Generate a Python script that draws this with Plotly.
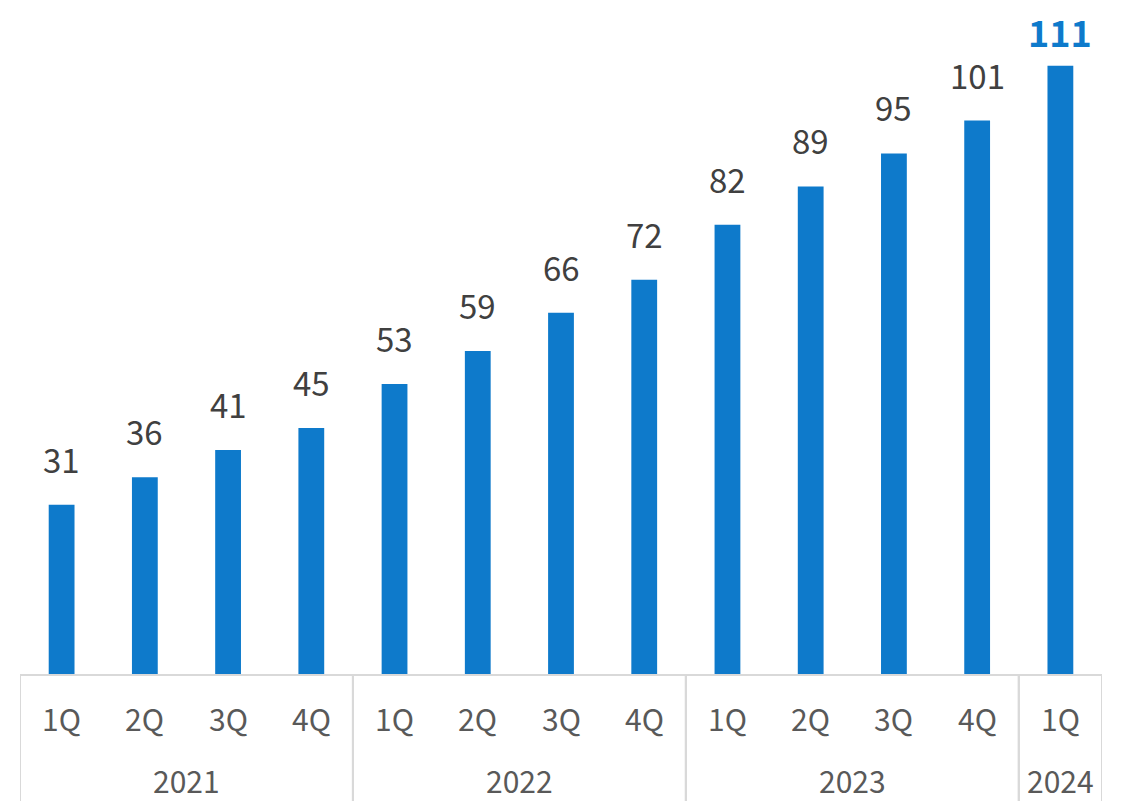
import plotly.graph_objects as go

years = ["2021", "2021", "2021", "2021", "2022", "2022", "2022", "2022",
         "2023", "2023", "2023", "2023", "2024"]
quarters = ["1Q", "2Q", "3Q", "4Q", "1Q", "2Q", "3Q", "4Q",
            "1Q", "2Q", "3Q", "4Q", "1Q"]
values = [31, 36, 41, 45, 53, 59, 66, 72, 82, 89, 95, 101, 111]

BLUE = "#0E7ACB"
FONT = "Noto Sans CJK JP"
n = len(values)
xs = list(range(n))

fig = go.Figure(go.Bar(x=xs, y=values, marker=dict(color=BLUE, line=dict(width=0)),
                       width=0.31, hoverinfo="skip"))

annotations = []
for i, v in enumerate(values):
    last = i == n - 1
    annotations.append(dict(
        x=i, y=v, xref="x", yref="y", text=f"<b>{v}</b>" if last else str(v),
        showarrow=False, yanchor="bottom", yshift=8 if last else 21, borderpad=0,
        font=dict(family=FONT, size=36 if last else 33, color=BLUE if last else "#404040")))
    annotations.append(dict(
        x=i, y=-0.064, xref="x", yref="paper", text=quarters[i], showarrow=False,
        yanchor="middle", font=dict(family=FONT, size=30, color="#595959")))

# year groups
groups = []
for i, y in enumerate(years):
    if groups and groups[-1][0] == y:
        groups[-1][2] = i
    else:
        groups.append([y, i, i])

shapes = [dict(type="line", xref="x", yref="paper", x0=-0.5, x1=n - 0.5, y0=0, y1=0,
               line=dict(color="#D9D9D9", width=2))]
for y, a, b in groups:
    annotations.append(dict(
        x=(a + b) / 2, y=-0.157, xref="x", yref="paper", text=y, showarrow=False,
        yanchor="middle", font=dict(family=FONT, size=30, color="#595959")))
    for xv in (a - 0.5, b + 0.5):
        shapes.append(dict(type="line", xref="x", yref="paper", x0=xv, x1=xv, y0=0, y1=-0.2,
                           line=dict(color="#D9D9D9", width=2)))

fig.update_layout(
    width=1114, height=793,
    margin=dict(l=12, r=20, t=0, b=126),
    paper_bgcolor="white", plot_bgcolor="white",
    showlegend=False,
    xaxis=dict(range=[-0.5, n - 0.5], showticklabels=False, showgrid=False,
               zeroline=False, showline=False, fixedrange=True),
    yaxis=dict(range=[0, 121.5], visible=False, showgrid=False, zeroline=False),
    annotations=annotations, shapes=shapes,
)

fig.write_html("out.html")
